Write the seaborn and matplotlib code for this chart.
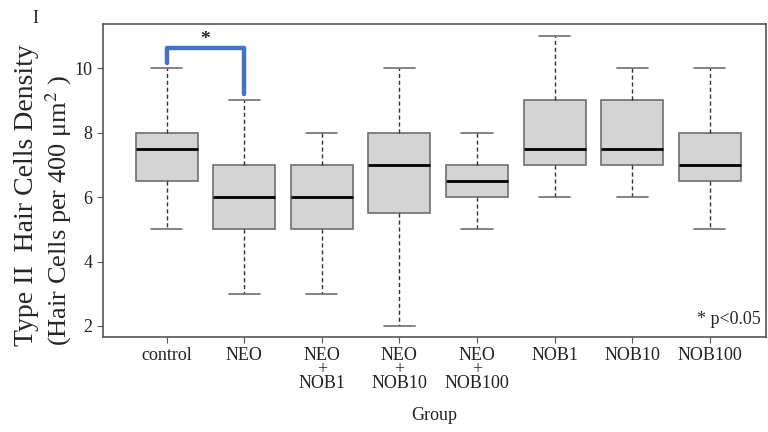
import numpy as np
import pandas as pd
import matplotlib
matplotlib.use("Agg")
import matplotlib.pyplot as plt
import seaborn as sns

# five-number summaries
groups = ["control", "NEO", "NEO\n+\nNOB1", "NEO\n+\nNOB10", "NEO\n+\nNOB100",
          "NOB1", "NOB10", "NOB100"]
whisker_low = [5, 3, 3, 2, 5, 6, 6, 5]
q1 = [6.5, 5, 5, 5.5, 6, 7, 7, 6.5]
median = [7.5, 6, 6, 7, 6.5, 7.5, 7.5, 7]
q3 = [8, 7, 7, 8, 7, 9, 9, 8]
whisker_high = [10, 9, 8, 10, 8, 11, 10, 10]

rows = []
for g, lo, a, m, b, hi in zip(groups, whisker_low, q1, median, q3, whisker_high):
    for v in (lo, a, m, b, hi):
        rows.append({"Group": g, "Density": v})
df = pd.DataFrame(rows)

sns.set_style("ticks")
plt.rcParams["font.family"] = ["Liberation Serif", "DejaVu Serif"]
plt.rcParams["mathtext.fontset"] = "stix"

fig = plt.figure(figsize=(7.68, 4.32), dpi=100)
ax = fig.add_axes([0.134, 0.22, 0.863, 0.724])

sns.boxplot(data=df, x="Group", y="Density", order=groups, ax=ax,
            whis=(0, 100), width=0.8, color="#d4d4d4", linecolor="#6e6e6e",
            linewidth=1.2, saturation=1,
            medianprops=dict(color="black", linewidth=2),
            whiskerprops=dict(color="#333333", linestyle=(0, (3, 2)), linewidth=1),
            capprops=dict(color="#6e6e6e", linewidth=1.2))

ax.set_xlim(-0.82, 7.72)
ax.set_ylim(1.66, 11.36)
ax.set_yticks([2, 4, 6, 8, 10])
ax.tick_params(axis="both", labelsize=13, length=4, color="#555555",
               labelcolor="#222222")
for t in ax.get_xticklabels():
    t.set_linespacing(0.75)
    t.set_verticalalignment("top")
for s in ax.spines.values():
    s.set_color("#555555")
    s.set_linewidth(1.2)

ax.set_xlabel("Group", fontsize=13, labelpad=11, color="#222222")
ax.set_ylabel("")
fig.text(0.034, 0.2, "Type II  Hair Cells Density", rotation=90,
         fontsize=20, ha="center", va="bottom")
fig.text(0.076, 0.2, r"(Hair Cells per 400 μm$^2$ )", rotation=90,
         fontsize=19, ha="center", va="bottom")
fig.text(0.046, 0.958, "I", fontsize=13, ha="center", va="center")

# significance bracket control vs NEO
ax.plot([0, 0, 1, 1], [10.15, 10.62, 10.62, 9.2], color="#4472c4",
        linewidth=3.2, solid_joinstyle="round")
ax.text(0.5, 10.9, "*", fontsize=14, ha="center", va="center",
        fontweight="bold")
ax.text(7.65, 2.2, "* p<0.05", fontsize=13, ha="right", va="center")

fig.savefig("out.png", dpi=100)
